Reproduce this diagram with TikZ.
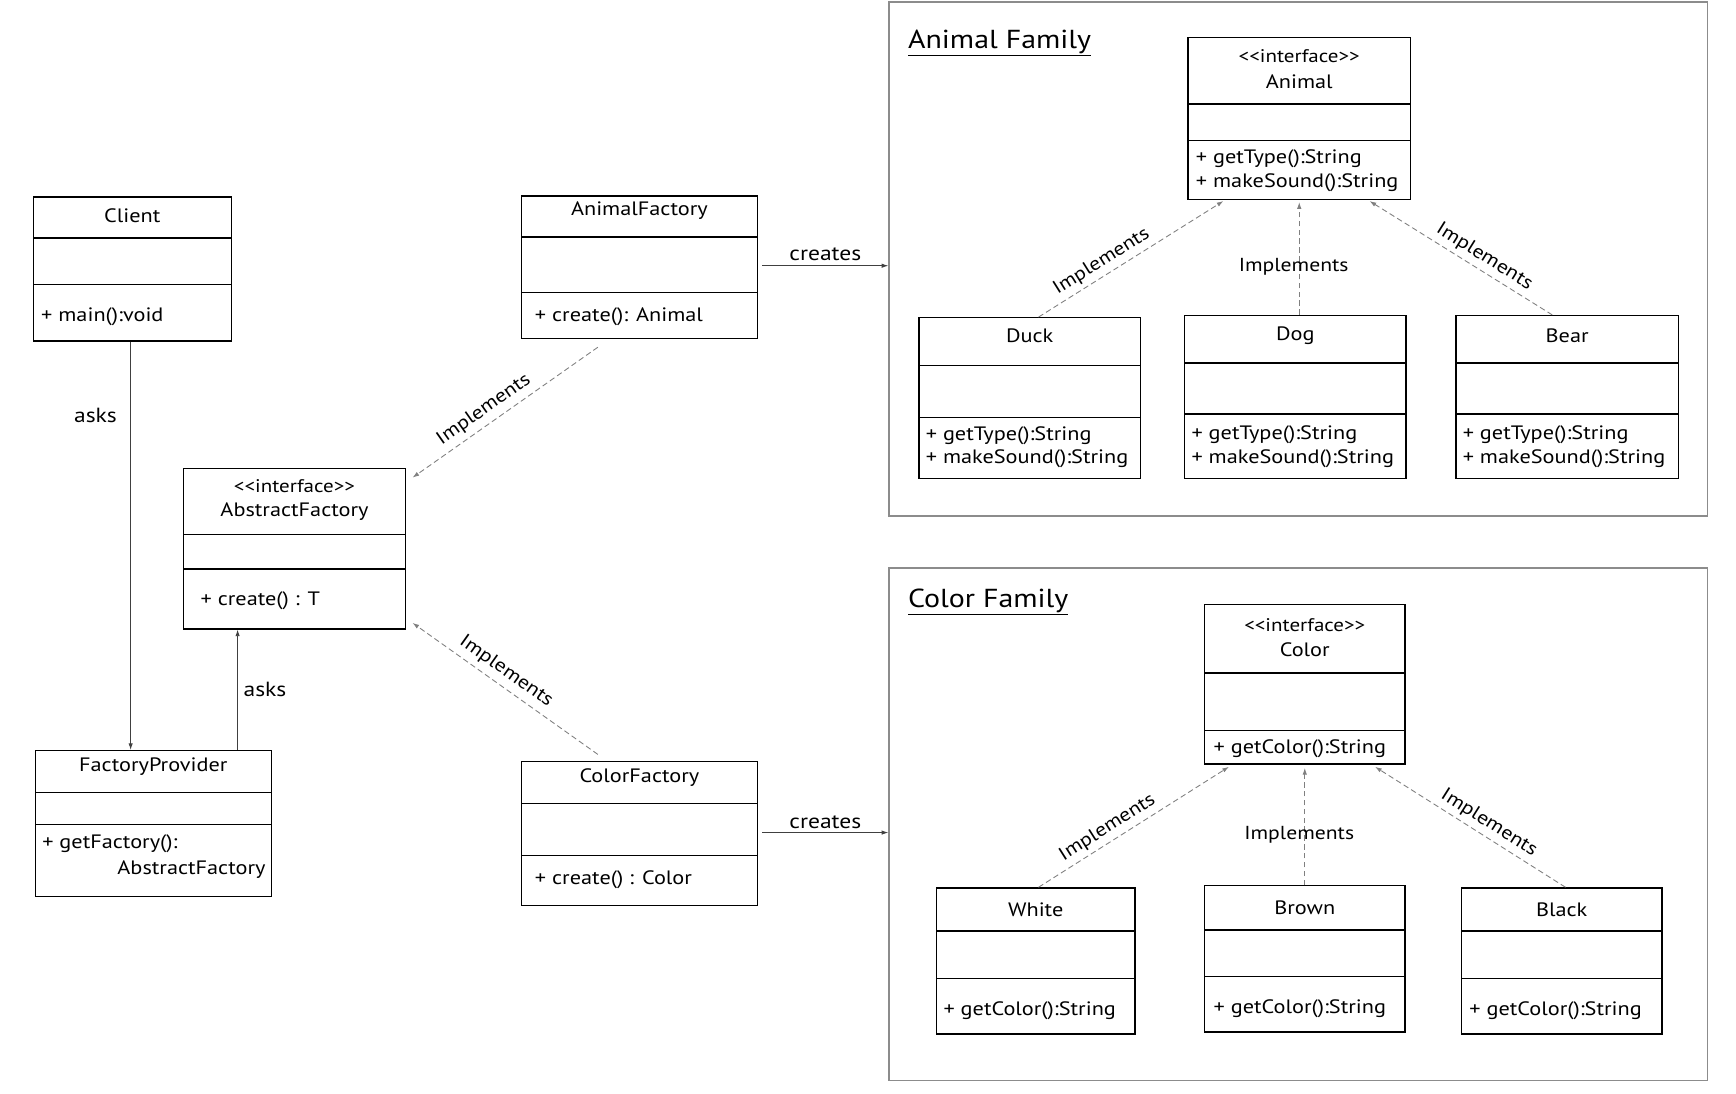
\documentclass[tikz,border=0pt]{standalone}
\usepackage{fontspec}
\setmainfont{PT Sans}[FakeStretch=1.15]
\usepackage{tikz}
\usetikzlibrary{calc,fit,arrows.meta}

\tikzset{
  classbox/.style={draw, line width=1.2pt, inner sep=0pt},
  familybox/.style={draw=black!45, line width=1.3pt, inner sep=0pt},
  classname/.style={font=\fontsize{17.5}{20}\selectfont, inner sep=0pt},
  stereo/.style={font=\fontsize{16.5}{19}\selectfont, inner sep=0pt},
  member/.style={font=\fontsize{17.5}{21.5}\selectfont, inner sep=0pt, anchor=west, align=left},
  lbl/.style={font=\fontsize{17}{20}\selectfont, inner sep=2pt},
  biglbl/.style={font=\fontsize{18.5}{22}\selectfont, inner sep=2pt},
  famtitle/.style={font=\fontsize{23.5}{28}\selectfont, inner sep=0pt, anchor=west},
  usearrow/.style={->, >={Latex[length=6pt,width=4pt]}, draw=black!75, line width=0.8pt},
  implarrow/.style={->, >={Latex[length=6pt,width=4pt]}, draw=black!50, line width=0.8pt, dash pattern=on 5pt off 3pt}
}

% box with two dividers: name, left, top, right, bottom, divider 1, divider 2
\newcommand{\umlclass}[7]{
  \node[classbox, fit={(#2,#3) (#4,#5)}] (#1) {};
  \draw[line width=1.2pt] (#2,#6) -- (#4,#6) (#2,#7) -- (#4,#7);
}
\newcommand{\stype}{<{}<interface>{}>}

\begin{document}
\begin{tikzpicture}[x=1pt, y=-1pt]
  \useasboundingbox (0,0) rectangle (1568,988);

  % families
  \node[familybox, fit={(803,2) (1542,466)}] (animalfam) {};
  \node[famtitle] (animalfam-t) at (820,39) {\underline{Animal Family}};

  \node[familybox, fit={(803,513) (1542,976)}] (colorfam) {};
  \node[famtitle] (colorfam-t) at (820,544) {\underline{Color Family}};

  % left part
  \umlclass{client}{30}{178}{209}{308}{215}{257}
  \node[classname] (client-t) at (119.5,195) {Client};
  \node[member] (client-m) at (37,286) {+ main():void};

  \umlclass{prov}{32}{678}{245}{810}{716}{745}
  \node[classname] (prov-t) at (138.5,692) {FactoryProvider};
  \node[member] (prov-m) at (38,762) {+ getFactory():};
  \node[member, anchor=east] (prov-m2) at (240,785) {AbstractFactory};

  \umlclass{absf}{166}{423}{366}{568}{483}{514}
  \node[stereo] (absf-s) at (266,439) {\stype};
  \node[classname] (absf-t) at (266,462) {AbstractFactory};
  \node[member] (absf-m) at (181,543) {+ create() : T};

  \umlclass{anif}{471}{177}{684}{306}{214}{264}
  \node[classname] (anif-t) at (577.5,190) {AnimalFactory};
  \node[member] (anif-m) at (483,286) {+ create(): Animal};

  \umlclass{colf}{471}{688}{684}{818}{726}{773}
  \node[classname] (colf-t) at (577.5,702) {ColorFactory};
  \node[member] (colf-m) at (483,795) {+ create() : Color};

  % animal family
  \umlclass{animal}{1073}{34}{1274}{180}{94}{127}
  \node[stereo] (animal-s) at (1173.5,51) {\stype};
  \node[classname] (animal-t) at (1173.5,74) {Animal};
  \node[member] (animal-m) at (1080,154.5) {+ getType():String\\+ makeSound():String};

  \umlclass{duck}{830}{287}{1030}{432}{330}{377}
  \node[classname] (duck-t) at (930,303) {Duck};
  \node[member] (duck-m) at (836,404) {+ getType():String\\+ makeSound():String};

  \umlclass{dog}{1070}{285}{1270}{432}{328}{374}
  \node[classname] (dog-t) at (1170,303) {Dog};
  \node[member] (dog-m) at (1076,403.5) {+ getType():String\\+ makeSound():String};

  \umlclass{bear}{1315}{285}{1516}{432}{328}{374}
  \node[classname] (bear-t) at (1415.5,303) {Bear};
  \node[member] (bear-m) at (1321,403.5) {+ getType():String\\+ makeSound():String};

  % color family
  \umlclass{color}{1088}{546}{1269}{690}{608}{660}
  \node[stereo] (color-s) at (1178.5,565) {\stype};
  \node[classname] (color-t) at (1178.5,587) {Color};
  \node[member] (color-m) at (1096,676) {+ getColor():String};

  \umlclass{white}{846}{802}{1025}{934}{841}{884}
  \node[classname] (white-t) at (935.5,822) {White};
  \node[member] (white-m) at (852,913) {+ getColor():String};

  \umlclass{brown}{1088}{800}{1269}{932}{840}{882}
  \node[classname] (brown-t) at (1178.5,820) {Brown};
  \node[member] (brown-m) at (1096,911) {+ getColor():String};

  \umlclass{black}{1320}{802}{1501}{934}{841}{884}
  \node[classname] (black-t) at (1410.5,822) {Black};
  \node[member] (black-m) at (1327,913) {+ getColor():String};

  % asks
  \draw[usearrow] ([xshift=-1.5pt]client.south) -- ([xshift=-1.5pt]client.south |- prov.north)
    node[biglbl, pos=0.18, left=10pt] {asks};
  \draw[usearrow] ([xshift=-31pt]prov.north east) -- ([xshift=-31pt]prov.north east |- absf.south)
    node[biglbl, pos=0.5, right=3pt] {asks};

  % creates
  \draw[usearrow] ([xshift=4pt,yshift=1.5pt]anif.east) -- ([yshift=1.5pt]anif.east -| animalfam.west)
    node[biglbl, midway, above=2pt] {creates};
  \draw[usearrow] ([xshift=4pt,yshift=1pt]colf.east) -- ([yshift=1pt]colf.east -| colorfam.west)
    node[biglbl, midway, above=1pt] {creates};

  % implements
  \draw[implarrow] ([xshift=-37.5pt,yshift=-7pt]anif.south) -- ([xshift=6pt,yshift=-9pt]absf.north east)
    node[lbl, pos=0.57, sloped, above=3pt] {Implements};
  \draw[implarrow] ([xshift=-37.5pt,yshift=6pt]colf.north) -- ([xshift=6pt,yshift=6pt]absf.south east)
    node[lbl, pos=0.54, sloped, above=3pt] {Implements};

  \draw[implarrow] ([xshift=8pt]duck.north) -- ([xshift=-68.5pt,yshift=-1pt]animal.south)
    node[lbl, pos=0.38, sloped, above=2pt] {Implements};
  \draw[implarrow] (animal.south |- dog.north) -- ([yshift=-2pt]animal.south)
    node[lbl, pos=0.43, xshift=-5pt] {Implements};
  \draw[implarrow] ([xshift=-13.5pt]bear.north) -- ([xshift=63.5pt,yshift=-1pt]animal.south)
    node[lbl, pos=0.41, sloped, above=2pt] {Implements};

  \draw[implarrow] ([xshift=2.5pt]white.north) -- ([xshift=-68.5pt,yshift=-2pt]color.south)
    node[lbl, pos=0.4, sloped, above=2pt] {Implements};
  \draw[implarrow] (brown.north) -- ([yshift=-3pt]color.south)
    node[lbl, pos=0.43, xshift=-5pt] {Implements};
  \draw[implarrow] ([xshift=3.5pt]black.north) -- ([xshift=63.5pt,yshift=-2pt]color.south)
    node[lbl, pos=0.44, sloped, above=2pt] {Implements};
\end{tikzpicture}
\end{document}
